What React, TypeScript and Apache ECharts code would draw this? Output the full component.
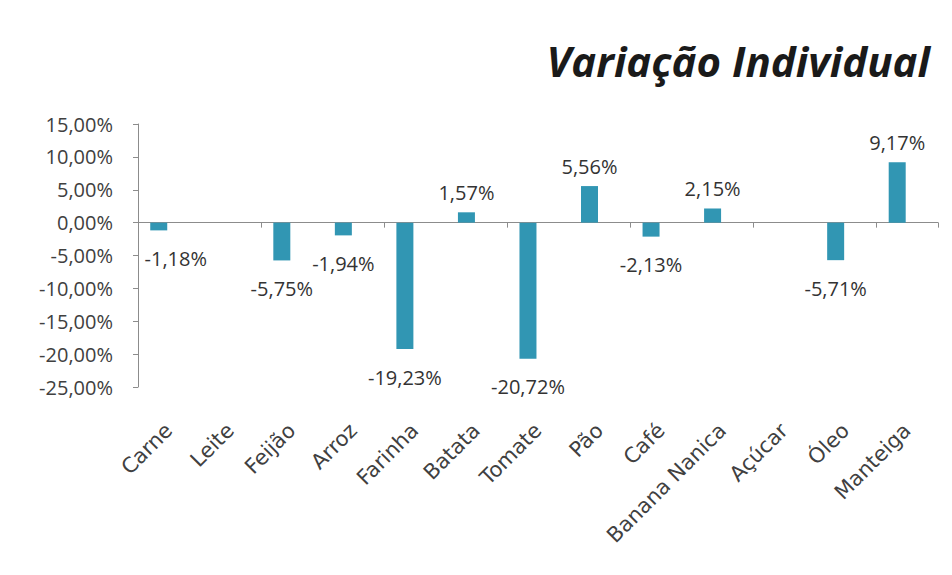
import React, { useEffect, useRef } from "react";
import * as echarts from "echarts";

const categories = [
  "Carne", "Leite", "Feijão", "Arroz", "Farinha", "Batata", "Tomate",
  "Pão", "Café", "Banana Nanica", "Açúcar", "Óleo", "Manteiga",
];
const variation: (number | null)[] = [
  -1.18, null, -5.75, -1.94, -19.23, 1.57, -20.72, 5.56, -2.13, 2.15, null, -5.71, 9.17,
];
const blankSeries: (number | null)[] = categories.map(() => null);
const yTicks = { min: -25, max: 15, interval: 5 };
const titleText = "Variação Individual";

const fmt = (v: number) => v.toFixed(2).replace(".", ",") + "%";

export default function App() {
  const ref = useRef<HTMLDivElement>(null);
  useEffect(() => {
    if (!ref.current) return;
    const chart = echarts.init(ref.current, null, { renderer: "svg" });
    const labelFont = "'Open Sans', sans-serif";
    chart.setOption({
      animation: false,
      backgroundColor: "#ffffff",
      title: {
        text: titleText,
        right: 17,
        top: 34,
        textStyle: {
          fontFamily: "'Open Sans', sans-serif",
          fontStyle: "italic",
          fontWeight: "bold",
          fontSize: 42,
          color: "#1a1a1a",
        },
      },
      grid: { left: 138, right: 14, top: 124, bottom: 188, containLabel: false },
      xAxis: [
        {
          type: "category",
          data: categories,
          position: "bottom",
          axisLine: { show: false, onZero: false },
          axisTick: { show: false },
          axisLabel: {
            interval: 0,
            rotate: 45,
            margin: 40,
            fontFamily: "'DejaVu Sans', sans-serif",
            fontSize: 21,
            color: "#404040",
          },
        },
        {
          type: "category",
          data: categories,
          position: "bottom",
          axisLine: { show: true, onZero: true, lineStyle: { color: "#8c8c8c", width: 1 } },
          axisTick: { show: true, length: 5, lineStyle: { color: "#8c8c8c" } },
          axisLabel: { show: false },
        },
      ],
      yAxis: {
        type: "value",
        min: yTicks.min,
        max: yTicks.max,
        interval: yTicks.interval,
        axisLine: { show: true, lineStyle: { color: "#8c8c8c" } },
        axisTick: { show: true, length: 5, lineStyle: { color: "#8c8c8c" } },
        splitLine: { show: false },
        axisLabel: {
          margin: 25,
          formatter: (v: number) => fmt(v),
          fontFamily: labelFont,
          fontSize: 20,
          color: "#404040",
        },
      },
      series: [
        {
          type: "bar",
          xAxisIndex: 0,
          data: variation.map((v, i) =>
            v === null
              ? null
              : {
                  value: v,
                  label: {
                    show: true,
                    position: v < 0 ? "bottom" : "top",
                    distance: v < 0 ? 18 : 10,
                    offset: i === 0 ? [17, 0] : [0, 0],
                  },
                }
          ),
          barWidth: 17,
          barGap: "18%",
          itemStyle: { color: "#3196b3" },
          label: {
            show: true,
            formatter: (p: any) => fmt(p.value),
            fontFamily: labelFont,
            fontSize: 20,
            color: "#333333",
          },
        },
        {
          type: "bar",
          xAxisIndex: 0,
          data: blankSeries,
          barWidth: 17,
          itemStyle: { color: "#3196b3" },
        },
      ],
    });
    return () => chart.dispose();
  }, []);
  return <div ref={ref} style={{ width: 952, height: 575, position: "absolute", left: 0, top: 0 }} />;
}
